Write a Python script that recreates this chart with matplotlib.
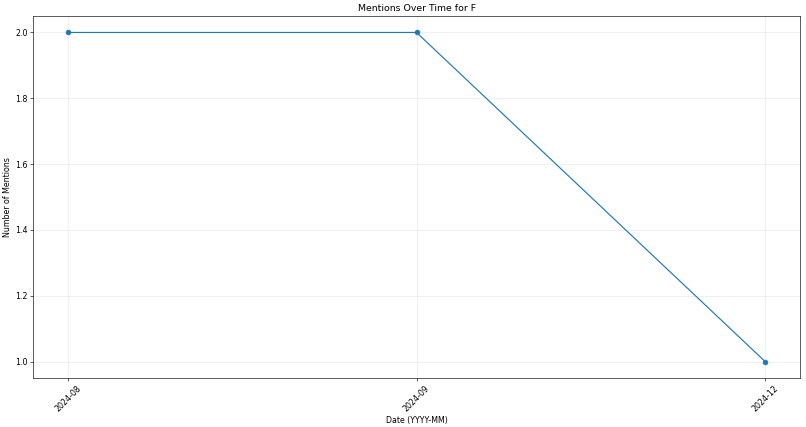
import matplotlib
matplotlib.use('Agg')
import matplotlib.pyplot as plt

dates = ['2024-08', '2024-09', '2024-12']
mentions = [2, 2, 1]


def main():
    dpi = 806 / 14.3
    fig = plt.figure(figsize=(14.3, 427 / dpi), dpi=dpi)
    plt.plot(dates, mentions, marker='o')
    plt.title('Mentions Over Time for F')
    plt.xlabel('Date (YYYY-MM)')
    plt.ylabel('Number of Mentions')
    plt.xticks(rotation=45)
    plt.grid(True, alpha=0.3)
    fig.subplots_adjust(left=33 / 806, right=800 / 806,
                        top=1 - 16 / 427, bottom=1 - 378 / 427)
    fig.savefig('out.png', dpi=dpi)


if __name__ == "__main__":
    main()
